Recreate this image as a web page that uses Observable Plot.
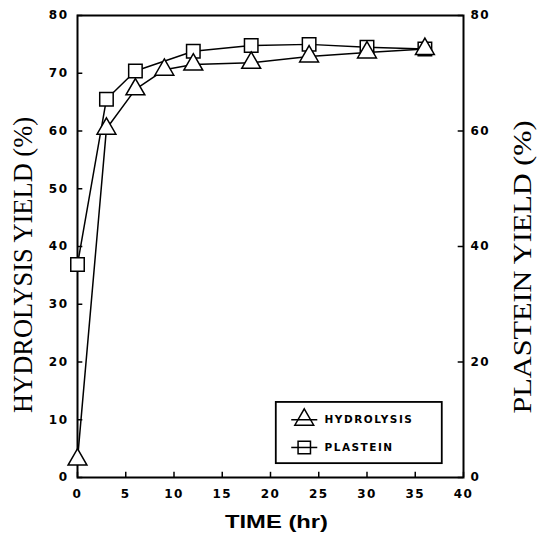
<!DOCTYPE html>
<html><head><meta charset="utf-8">
<script src="https://cdn.jsdelivr.net/npm/d3@7"></script>
<script src="https://cdn.jsdelivr.net/npm/@observablehq/plot@0.6"></script>
<style>body{margin:0;background:#fff} #chart svg{display:block}</style>
</head><body><div id="chart"></div>
<script>
// ---- data ----
const timeHydrolysis = [0, 3, 6, 9, 12, 18, 24, 30, 36];
const hydrolysisYield = [3.1, 60.4, 67.2, 70.6, 71.5, 71.8, 72.9, 73.6, 74.2];
const timePlastein = [0, 3, 6, 12, 18, 24, 30, 36];
const plasteinYield = [36.9, 65.5, 70.4, 73.8, 74.8, 75.0, 74.5, 74.2];
const xTicks = [0, 5, 10, 15, 20, 25, 30, 35, 40];
const leftTicks = [0, 10, 20, 30, 40, 50, 60, 70, 80];
const rightTicks = [0, 20, 40, 60, 80];
const seriesNames = ["HYDROLYSIS", "PLASTEIN"];
const seriesSymbols = ["triangle", "square"];
const xTitle = "TIME (hr)";
const leftTitle = "HYDROLYSIS YIELD (%)";
const rightTitle = "PLASTEIN YIELD (%)";

const hyd = timeHydrolysis.map((t, i) => ({t, v: hydrolysisYield[i]}));
const pla = timePlastein.map((t, i) => ({t, v: plasteinYield[i]}));

// legend layout (in data units)
const legendRows = seriesNames.map((name, i) => ({name, symbol: seriesSymbols[i], y: i === 0 ? 10.0 : 5.2}));

const plot = Plot.plot({
  width: 537, height: 538,
  marginTop: 15, marginLeft: 77, marginRight: 74, marginBottom: 61,
  x: {domain: [0, 40]},
  y: {domain: [0, 80]},
  style: {fontFamily: "DejaVu Sans", fontWeight: "bold", fontSize: "12px", letterSpacing: "1.5px", background: "white"},
  marks: [
    Plot.axisX(xTicks, {anchor: "bottom", tickSize: 0, tickPadding: 12, label: null}),
    Plot.axisY(leftTicks, {anchor: "left", tickSize: 0, tickPadding: 9, label: null}),
    Plot.axisY(rightTicks, {anchor: "right", tickSize: 0, tickPadding: 7, label: null}),
    // inward tick marks
    Plot.ruleX(xTicks, {x: d => d, y1: 0, y2: 0.9, stroke: "black", strokeWidth: 1.5}),
    Plot.ruleY(leftTicks, {y: d => d, x1: 0, x2: 0.55, stroke: "black", strokeWidth: 1.5}),
    Plot.ruleY(rightTicks, {y: d => d, x1: 39.45, x2: 40, stroke: "black", strokeWidth: 1.5}),
    Plot.frame({stroke: "black", strokeWidth: 2}),
    Plot.line(hyd, {x: "t", y: "v", stroke: "black", strokeWidth: 1.5}),
    Plot.line(pla, {x: "t", y: "v", stroke: "black", strokeWidth: 1.5}),
    Plot.dot(pla, {x: "t", y: "v", symbol: "square", r: 7.6, fill: "white", stroke: "black", strokeWidth: 1.5}),
    Plot.dot(hyd, {x: "t", y: "v", symbol: "triangle", r: 7, fill: "white", stroke: "black", strokeWidth: 1.5}),
    // legend
    Plot.rect([0], {x1: 20.6, x2: 37.8, y1: 2.4, y2: 13.0, fill: "white", stroke: "black", strokeWidth: 1.8}),
    Plot.ruleY(legendRows, {y: "y", x1: 22.2, x2: 24.9, stroke: "black", strokeWidth: 1.5}),
    Plot.dot(legendRows, {x: 23.5, y: "y", symbol: "symbol", r: 7, fill: "none", stroke: "black", strokeWidth: 1.5}),
    Plot.text(legendRows, {x: 25.6, y: "y", text: "name", textAnchor: "start", fontSize: 10.5, fontWeight: "bold", fontFamily: "DejaVu Sans", letterSpacing: "2.3px"})
  ]
});
document.getElementById("chart").appendChild(plot);

const svg = d3.select(plot);
svg.append("text")
  .attr("transform", "translate(32,265) rotate(-90)")
  .attr("text-anchor", "middle")
  .attr("font-family", "Liberation Serif").attr("font-size", 27)
  .attr("font-weight", "normal").attr("letter-spacing", "0px")
  .attr("textLength", 296).attr("lengthAdjust", "spacingAndGlyphs")
  .text(leftTitle);
svg.append("text")
  .attr("transform", "translate(531,267) rotate(-90)")
  .attr("text-anchor", "middle")
  .attr("font-family", "Liberation Serif").attr("font-size", 25)
  .attr("font-weight", "normal").attr("letter-spacing", "0px")
  .attr("textLength", 293).attr("lengthAdjust", "spacingAndGlyphs")
  .text(rightTitle);
svg.append("text")
  .attr("x", 276.5).attr("y", 528)
  .attr("text-anchor", "middle")
  .attr("font-family", "Liberation Sans").attr("font-size", 18)
  .attr("font-weight", "bold").attr("letter-spacing", "0px")
  .attr("textLength", 103).attr("lengthAdjust", "spacingAndGlyphs")
  .text(xTitle);
</script>
</body></html>
